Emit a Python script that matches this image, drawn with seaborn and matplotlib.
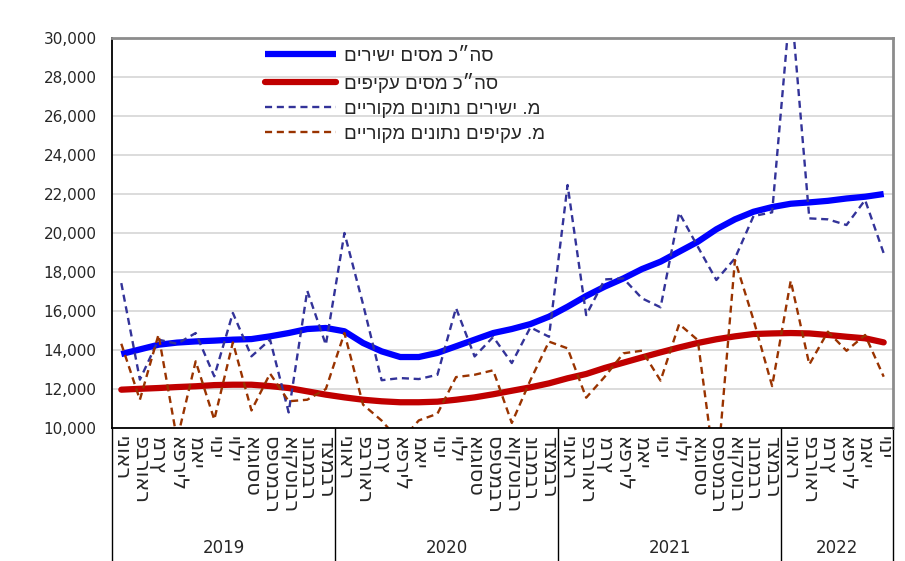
import numpy as np
import pandas as pd
import seaborn as sns
import matplotlib
matplotlib.use("Agg")
import matplotlib.pyplot as plt
import matplotlib.transforms as mtransforms
from matplotlib.ticker import FuncFormatter, FixedLocator

# months Jan 2019 .. Jun 2022
month_names = ["ינואר", "פברואר", "מרץ", "אפריל", "מאי", "יוני", "יולי",
               "אוגוסט", "ספטמבר", "אוקטובר", "נובמבר", "דצמבר"]
years = [2019, 2020, 2021, 2022]
months_per_year = [12, 12, 12, 6]

# total direct taxes (trend)
direct_trend = [13790, 14030, 14270, 14380, 14440, 14480, 14530, 14560, 14700, 14870, 15075, 15130,
                14960, 14360, 13930, 13640, 13640, 13850, 14190, 14530, 14870, 15075, 15330, 15710,
                16220, 16770, 17250, 17670, 18150, 18530, 19040, 19550, 20190, 20700, 21090, 21330,
                21500, 21570, 21650, 21770, 21860, 22000]
# total indirect taxes (trend)
indirect_trend = [11965, 12010, 12050, 12100, 12140, 12200, 12220, 12220, 12150, 12050, 11880, 11710,
                  11570, 11450, 11370, 11320, 11320, 11350, 11450, 11570, 11730, 11910, 12085, 12290,
                  12550, 12770, 13080, 13350, 13620, 13880, 14130, 14360, 14550, 14700, 14820, 14850,
                  14870, 14850, 14770, 14680, 14600, 14390]
# direct taxes, original data
direct_raw = [17430, 12480, 14530, 14320, 14870, 12650, 15900, 13675, 14530, 10800, 17040, 14270,
              20000, 16350, 12450, 12560, 12510, 12730, 16150, 13670, 14670, 13330, 15160, 14680,
              22460, 15790, 17620, 17670, 16650, 16190, 21040, 19300, 17590, 18700, 20870, 21060,
              32000, 20750, 20700, 20410, 21690, 18960]
# indirect taxes, original data
indirect_raw = [14320, 11450, 14785, 9400, 13420, 10430, 14390, 10900, 12790, 11370, 11450, 12000,
                14870, 11200, 10380, 9300, 10390, 10730, 12610, 12730, 12960, 10260, 12450, 14430,
                14085, 11555, 12630, 13830, 13965, 12430, 15330, 14510, 7300, 18610, 15540, 12150,
                17550, 13260, 14940, 13960, 14770, 12630]

labels = ["סה״כ מסים ישירים", "סה״כ מסים עקיפים",
          "מ. ישירים נתונים מקוריים", "מ. עקיפים נתונים מקוריים"]


def rtl(s):
    # matplotlib has no bidi support, so lay Hebrew out visually
    return s[::-1]


n = len(direct_trend)
df = pd.DataFrame({"i": np.arange(n), "direct_trend": direct_trend, "indirect_trend": indirect_trend,
                   "direct_raw": direct_raw, "indirect_raw": indirect_raw})

sns.set_style("white")
plt.rcParams["font.family"] = ["DejaVu Sans"]

fig = plt.figure(figsize=(9.05, 5.61), dpi=100)
ax = fig.add_axes([112 / 905, 1 - 428 / 561, 781 / 905, 390 / 561])

sns.lineplot(data=df, x="i", y="direct_trend", ax=ax, color="#0000FF", lw=4.5, label=rtl(labels[0]),
             solid_capstyle="butt")
sns.lineplot(data=df, x="i", y="indirect_trend", ax=ax, color="#C00000", lw=4.5, label=rtl(labels[1]),
             solid_capstyle="round")
sns.lineplot(data=df, x="i", y="direct_raw", ax=ax, color="#333399", lw=1.7, label=rtl(labels[2]),
             linestyle=(0, (3, 2)))
sns.lineplot(data=df, x="i", y="indirect_raw", ax=ax, color="#993300", lw=1.7, label=rtl(labels[3]),
             linestyle=(0, (3, 2)))

ax.set_ylim(10000, 30000)
ax.set_xlim(-0.5, n - 0.5)
ax.set_yticks(np.arange(10000, 30001, 2000))
ax.yaxis.set_major_formatter(FuncFormatter(lambda v, p: f"{int(v):,}"))
ax.yaxis.grid(True, color="#D9D9D9", lw=1.3)
ax.set_axisbelow(True)
ax.tick_params(axis="y", direction="out", length=4, width=1, color="black", labelsize=11, pad=7)
ax.set_xlabel("")
ax.set_ylabel("")

# month labels
month_labels = [month_names[k % 12] for k in range(n)]
ax.set_xticks(np.arange(n))
ax.set_xticklabels(month_labels, rotation=270, fontsize=15)
ax.tick_params(axis="x", which="major", length=0, pad=6)
ax.xaxis.set_minor_locator(FixedLocator(np.arange(n - 1) + 0.5))
ax.tick_params(axis="x", which="minor", direction="out", length=70, width=1, color="#7F7F7F")

for side in ["left", "bottom"]:
    ax.spines[side].set_color("black")
    ax.spines[side].set_linewidth(1.3)
for side in ["top", "right"]:
    ax.spines[side].set_color("#8C8C8C")
    ax.spines[side].set_linewidth(2)

# year groups
trans = mtransforms.blended_transform_factory(ax.transData, ax.transAxes)
start = -0.5
bounds = [start]
for y, m in zip(years, months_per_year):
    ax.text(start + m / 2, -0.308, str(y), transform=trans, ha="center", va="center", fontsize=12)
    start += m
    bounds.append(start)
ax.vlines(bounds, 0, -0.345, transform=trans, colors="black", lw=1, clip_on=False)

leg = ax.legend(loc="upper left", bbox_to_anchor=(0.196, 0.975), frameon=False, fontsize=13.5,
                handlelength=3.8, handletextpad=0.4, labelspacing=0.42, borderaxespad=0, borderpad=0)
for t in leg.get_texts():
    t.set_family(["Liberation Sans", "DejaVu Sans"])

fig.savefig("out.png", dpi=100)
